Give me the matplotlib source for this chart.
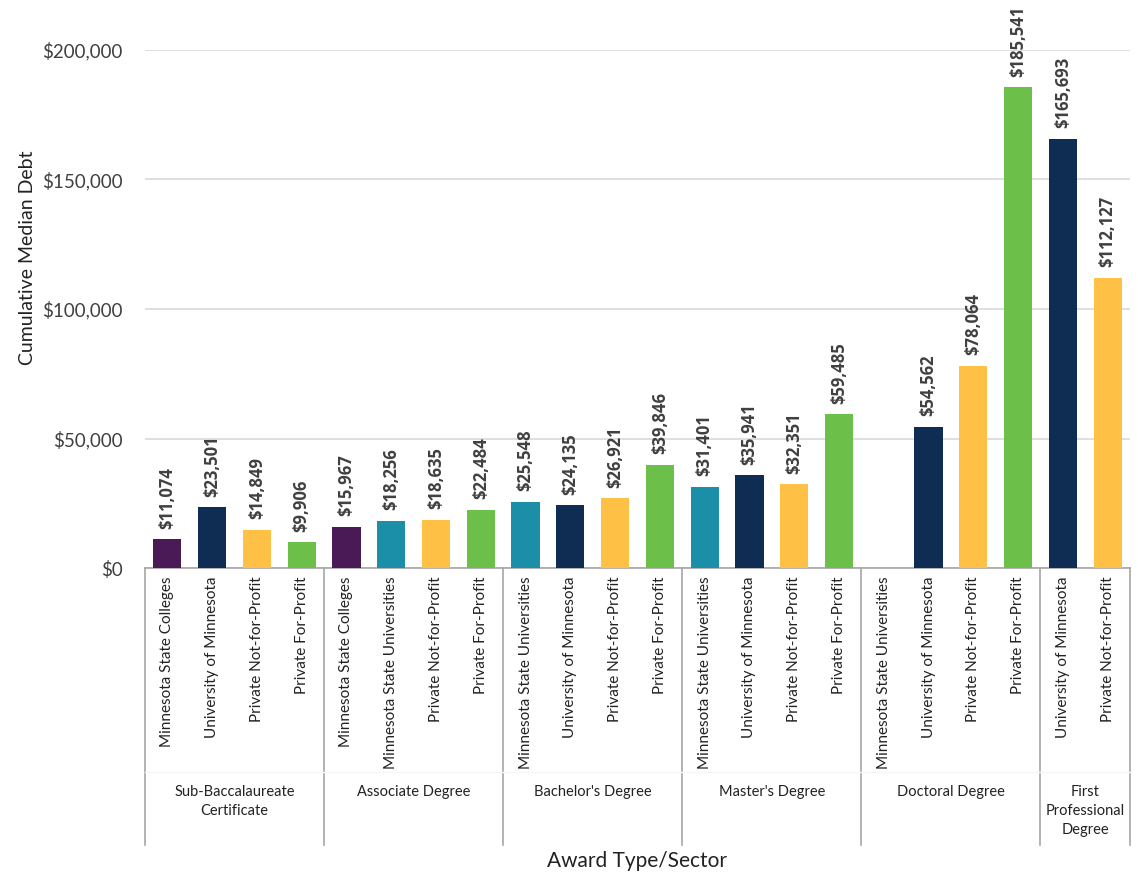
import matplotlib.pyplot as plt
from matplotlib.transforms import blended_transform_factory

plt.rcParams['font.family'] = ['Lato', 'DejaVu Sans']

# award groups and the sectors inside each group
groups = ['Sub-Baccalaureate\nCertificate', 'Associate Degree', "Bachelor's Degree",
          "Master's Degree", 'Doctoral Degree', 'First\nProfessional\nDegree']
sectors = [
    ['Minnesota State Colleges', 'University of Minnesota', 'Private Not-for-Profit', 'Private For-Profit'],
    ['Minnesota State Colleges', 'Minnesota State Universities', 'Private Not-for-Profit', 'Private For-Profit'],
    ['Minnesota State Universities', 'University of Minnesota', 'Private Not-for-Profit', 'Private For-Profit'],
    ['Minnesota State Universities', 'University of Minnesota', 'Private Not-for-Profit', 'Private For-Profit'],
    ['Minnesota State Universities', 'University of Minnesota', 'Private Not-for-Profit', 'Private For-Profit'],
    ['University of Minnesota', 'Private Not-for-Profit'],
]
debt = [
    [11074, 23501, 14849, 9906],
    [15967, 18256, 18635, 22484],
    [25548, 24135, 26921, 39846],
    [31401, 35941, 32351, 59485],
    [None, 54562, 78064, 185541],
    [165693, 112127],
]

sector_colors = {
    'Minnesota State Colleges': '#4a1a56',
    'Minnesota State Universities': '#1b8fa8',
    'University of Minnesota': '#0f2d52',
    'Private Not-for-Profit': '#ffc145',
    'Private For-Profit': '#6cc04a',
}

fig = plt.figure(figsize=(11.38, 8.75), dpi=100)
ax = fig.add_axes([145 / 1138, 1 - 568 / 875, 985 / 1138, 518 / 875])

x = 0
tick_pos, tick_lab, bounds, centers = [], [], [-0.5], []
for g, secs, vals in zip(groups, sectors, debt):
    start = x
    for s, v in zip(secs, vals):
        tick_pos.append(x)
        tick_lab.append(s)
        if v is not None:
            ax.bar(x, v, width=0.63, color=sector_colors[s], zorder=3)
            ax.text(x, v + 4000, f'${v:,}', rotation=90, ha='center', va='bottom',
                    fontsize=12, fontweight='bold', family=['Open Sans', 'DejaVu Sans'],
                    color='#404040', clip_on=False)
        x += 1
    bounds.append(x - 0.5)
    centers.append((start + x - 1) / 2)

ax.set_xlim(-0.5, x - 0.5)
ax.set_ylim(0, 200000)
ax.set_yticks([0, 50000, 100000, 150000, 200000])
ax.set_yticklabels([f'${v:,}' for v in ax.get_yticks().astype(int)], fontsize=13.5, color='#404040')
ax.yaxis.grid(True, color='#d9d9d9', linewidth=1.2, zorder=0)
ax.tick_params(axis='y', length=0, pad=16)
ax.set_xticks(tick_pos)
ax.set_xticklabels(tick_lab, rotation=90, fontsize=11, color='#222222', va='top')
ax.tick_params(axis='x', length=0, pad=6)
for sp in ['top', 'right', 'left']:
    ax.spines[sp].set_visible(False)
ax.spines['bottom'].set_color('#a6a6a6')
ax.spines['bottom'].set_linewidth(1.2)

trans = blended_transform_factory(ax.transData, fig.transFigure)
for b in bounds:
    ax.plot([b, b], [1 - 568 / 875, 1 - 845 / 875], transform=trans, color='#a6a6a6',
            linewidth=1.2, clip_on=False)
ax.plot([-0.5, x - 0.5], [1 - 772 / 875, 1 - 772 / 875], transform=trans, color='#f6f6f6',
        linewidth=1, clip_on=False)
for c, g in zip(centers, groups):
    ax.text(c, 1 - 785 / 875, g, transform=trans, ha='center', va='top', fontsize=10.5,
            color='#222222', linespacing=1.45)

fig.text(637 / 1138, 1 - 861 / 875, 'Award Type/Sector', ha='center', va='center',
         fontsize=15, color='#222222')
fig.text(28 / 1138, 1 - 258 / 875, 'Cumulative Median Debt', rotation=90, ha='center',
         va='center', fontsize=14, color='#222222')

fig.savefig('out.png', dpi=100)
